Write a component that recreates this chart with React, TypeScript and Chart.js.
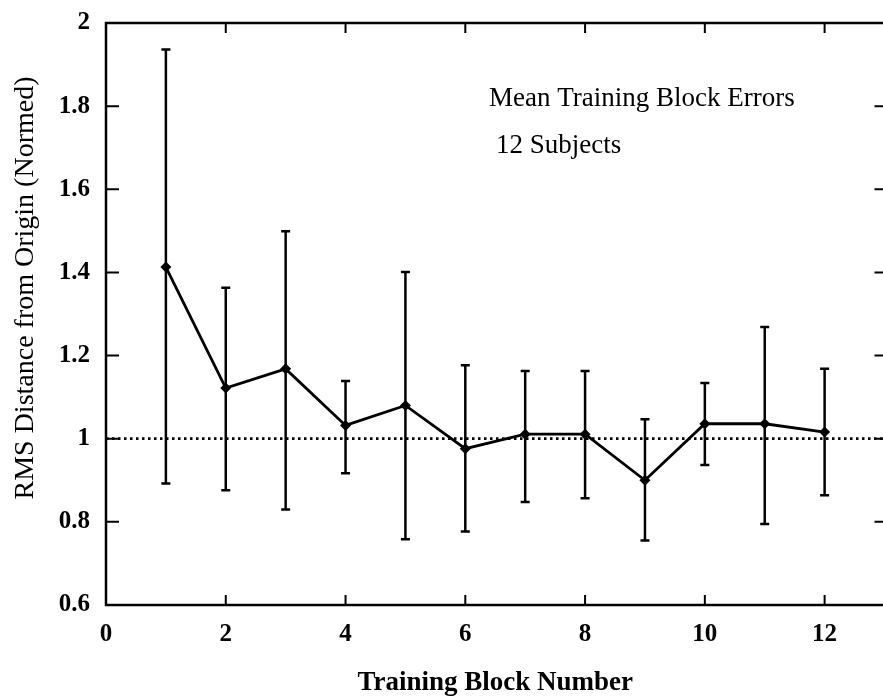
import React, { useEffect, useRef } from 'react';
import { Chart, registerables } from 'chart.js';

Chart.register(...registerables);

const blocks = [1, 2, 3, 4, 5, 6, 7, 8, 9, 10, 11, 12];
const meanErrors = [1.413, 1.122, 1.168, 1.032, 1.08, 0.976, 1.011, 1.011, 0.9, 1.036, 1.036, 1.016];
const upperErrors = [1.936, 1.363, 1.499, 1.139, 1.401, 1.177, 1.163, 1.163, 1.047, 1.134, 1.269, 1.168];
const lowerErrors = [0.892, 0.876, 0.83, 0.917, 0.758, 0.777, 0.848, 0.857, 0.755, 0.937, 0.795, 0.864];
const xTicks = [0, 2, 4, 6, 8, 10, 12];
const yTicks = [0.6, 0.8, 1, 1.2, 1.4, 1.6, 1.8, 2];
const xRange = [0, 13];
const yRange = [0.6, 2];
const referenceLevel = 1;
const annotationLines = ['Mean Training Block Errors', '12 Subjects'];
const xTitle = 'Training Block Number';
const yTitle = 'RMS Distance from Origin (Normed)';

const FONT = '"Liberation Serif", "Times New Roman", serif';

const decorPlugin = {
  id: 'decor',
  beforeDatasetsDraw(chart: any) {
    const { ctx, scales } = chart;
    const x = scales.x;
    const y = scales.y;
    ctx.save();
    ctx.strokeStyle = '#000';
    ctx.lineWidth = 2.5;
    blocks.forEach((b, i) => {
      const px = x.getPixelForValue(b);
      const top = y.getPixelForValue(upperErrors[i]);
      const bot = y.getPixelForValue(lowerErrors[i]);
      ctx.beginPath();
      ctx.moveTo(px, top);
      ctx.lineTo(px, bot);
      ctx.moveTo(px - 4.5, top);
      ctx.lineTo(px + 4.5, top);
      ctx.moveTo(px - 4.5, bot);
      ctx.lineTo(px + 4.5, bot);
      ctx.stroke();
    });
    ctx.restore();
  },
  afterDraw(chart: any) {
    const { ctx, chartArea: a, scales } = chart;
    const x = scales.x;
    const y = scales.y;
    ctx.save();
    ctx.strokeStyle = '#000';
    ctx.lineWidth = 2.5;
    ctx.strokeRect(a.left, a.top, a.right - a.left, a.bottom - a.top);
    ctx.lineWidth = 2;
    ctx.beginPath();
    xTicks.forEach((v) => {
      const px = x.getPixelForValue(v);
      ctx.moveTo(px, a.bottom);
      ctx.lineTo(px, a.bottom - 10);
      ctx.moveTo(px, a.top);
      ctx.lineTo(px, a.top + 10);
    });
    yTicks.forEach((v) => {
      const py = y.getPixelForValue(v);
      ctx.moveTo(a.left, py);
      ctx.lineTo(a.left + 13, py);
      ctx.moveTo(a.right, py);
      ctx.lineTo(a.right - 10, py);
    });
    ctx.stroke();

    // annotation text
    ctx.fillStyle = '#000';
    ctx.font = `27px ${FONT}`;
    ctx.textAlign = 'left';
    ctx.textBaseline = 'alphabetic';
    ctx.fillText(annotationLines[0], a.left + 383, a.top + 83);
    ctx.fillText(annotationLines[1], a.left + 390, a.top + 130);

    // y title
    ctx.save();
    ctx.translate(26, a.top + 265);
    ctx.rotate(-Math.PI / 2);
    ctx.textAlign = 'center';
    ctx.textBaseline = 'middle';
    ctx.font = `28px ${FONT}`;
    ctx.fillText(yTitle, 0, 0);
    ctx.restore();
    ctx.restore();
  },
};

export default function App() {
  const canvasRef = useRef<HTMLCanvasElement | null>(null);

  useEffect(() => {
    const canvas = canvasRef.current;
    if (!canvas) return;
    const chart = new Chart(canvas, {
      type: 'line',
      data: {
        datasets: [
          {
            data: [
              { x: xRange[0], y: referenceLevel },
              { x: xRange[1], y: referenceLevel },
            ],
            borderColor: '#000',
            borderWidth: 2.8,
            borderDash: [2.5, 3.5],
            pointRadius: 0,
            fill: false,
          },
          {
            data: blocks.map((b, i) => ({ x: b, y: meanErrors[i] })),
            borderColor: '#000',
            backgroundColor: '#000',
            borderWidth: 2.8,
            pointStyle: 'rectRot',
            pointRadius: 5.5,
            pointBorderWidth: 0,
            pointBackgroundColor: '#000',
            fill: false,
            tension: 0,
          },
        ],
      },
      options: {
        animation: false,
        responsive: true,
        maintainAspectRatio: false,
        events: [],
        layout: { padding: { top: 23, right: 2, bottom: 0, left: 0 } },
        plugins: {
          legend: { display: false },
          tooltip: { enabled: false },
          title: { display: false },
        },
        scales: {
          x: {
            type: 'linear',
            min: xRange[0],
            max: xRange[1],
            grid: { display: false },
            border: { display: false },
            afterBuildTicks: (scale: any) => {
              scale.ticks = xTicks.map((v) => ({ value: v }));
            },
            afterFit: (scale: any) => {
              scale.height = 95;
            },
            ticks: {
              color: '#000',
              padding: 7,
              maxRotation: 0,
              autoSkip: false,
              font: { family: FONT, size: 25, weight: 'bold' },
              callback: (v: any) => String(v),
            },
            title: {
              display: true,
              text: xTitle,
              color: '#000',
              padding: { top: 0, bottom: 1 },
              font: { family: FONT, size: 27, weight: 'bold' },
            },
          },
          y: {
            type: 'linear',
            min: yRange[0],
            max: yRange[1],
            grid: { display: false },
            border: { display: false },
            afterBuildTicks: (scale: any) => {
              scale.ticks = yTicks.map((v) => ({ value: v }));
            },
            afterFit: (scale: any) => {
              scale.width = 106;
            },
            ticks: {
              color: '#000',
              padding: 8,
              autoSkip: false,
              font: { family: FONT, size: 25, weight: 'bold' },
              callback: (v: any) => String(Number(Number(v).toFixed(1))),
            },
            title: { display: false },
          },
        },
      },
      plugins: [decorPlugin],
    } as any);
    return () => chart.destroy();
  }, []);

  return (
    <div
      style={{
        position: 'fixed',
        left: 0,
        top: 0,
        width: 883,
        height: 700,
        overflow: 'hidden',
        background: '#fff',
      }}
    >
      <div style={{ position: 'relative', width: 890, height: 700 }}>
        <canvas ref={canvasRef} />
      </div>
    </div>
  );
}
